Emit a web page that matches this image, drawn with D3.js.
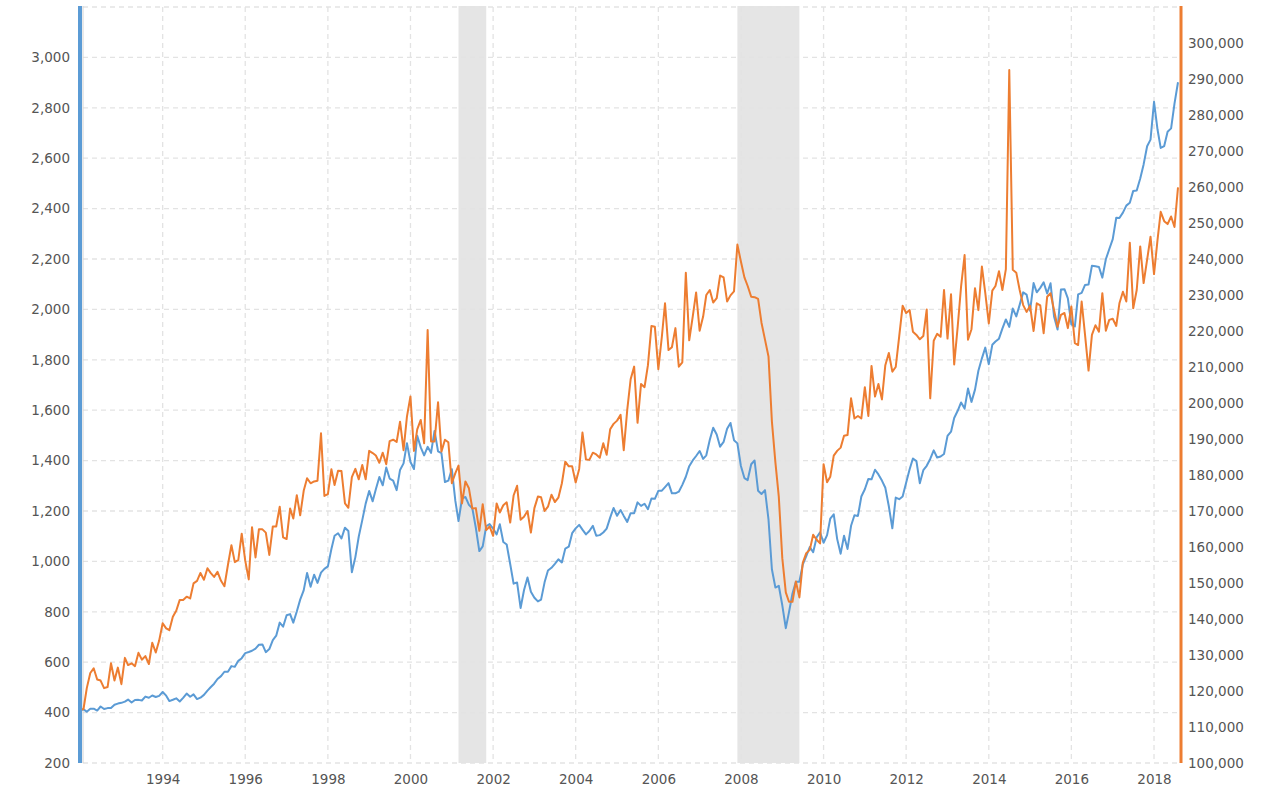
<!DOCTYPE html>
<html>
<head>
<meta charset="utf-8">
<script src="https://cdn.jsdelivr.net/npm/d3@7"></script>
<style>
  body { margin: 0; background: #fff; }
  svg { display: block; }
  text { font-family: "DejaVu Sans", Verdana, sans-serif; }
</style>
</head>
<body>
<svg id="chart" width="1280" height="790"></svg>
<script>
// ---------- DATA ----------
const firstMonth = "1992-01-01";
const lastMonth = "2018-08-01";

// S&P 500 monthly close (left axis), Jan 1992 .. Aug 2018
const sp500 = [
  408.79,412.70,403.69,414.95,415.35,408.14,424.21,414.03,417.80,418.68,431.35,435.71,
  438.78,443.38,451.67,440.19,450.19,450.53,448.13,463.56,458.93,467.83,461.79,466.45,
  481.61,467.14,445.77,450.91,456.50,444.27,458.26,475.49,462.69,472.35,453.69,459.27,
  470.42,487.39,500.71,514.71,533.40,544.75,562.06,561.88,584.41,581.50,605.37,615.93,
  636.02,640.43,645.50,654.17,669.12,670.63,639.95,651.99,687.31,705.27,757.02,740.74,
  786.16,790.82,757.12,801.34,848.28,885.14,954.29,899.47,947.28,914.62,955.40,970.43,
  980.28,1049.34,1101.75,1111.75,1090.82,1133.84,1120.67,957.28,1017.01,1098.67,1163.63,1229.23,
  1279.64,1238.33,1286.37,1335.18,1301.84,1372.71,1328.72,1320.41,1282.71,1362.93,1388.91,1469.25,
  1394.46,1366.42,1498.58,1452.43,1420.60,1454.60,1430.83,1517.68,1436.51,1429.40,1314.95,1320.28,
  1366.01,1239.94,1160.33,1249.46,1255.82,1224.42,1211.23,1133.58,1040.94,1059.78,1139.45,1148.08,
  1130.20,1106.73,1147.39,1076.92,1067.14,989.82,911.62,916.07,815.28,885.76,936.31,879.82,
  855.70,841.15,848.18,916.92,963.59,974.50,990.31,1008.01,995.97,1050.71,1058.20,1111.92,
  1131.13,1144.94,1126.21,1107.30,1120.68,1140.84,1101.72,1104.24,1114.58,1130.20,1173.82,1211.92,
  1181.27,1203.60,1180.59,1156.85,1191.50,1191.33,1234.18,1220.33,1228.81,1207.01,1249.48,1248.29,
  1280.08,1280.66,1294.83,1310.61,1270.09,1270.20,1276.66,1303.82,1335.85,1377.94,1400.63,1418.30,
  1438.24,1406.82,1420.86,1482.37,1530.62,1503.35,1455.27,1473.99,1526.75,1549.38,1481.14,1468.36,
  1378.55,1330.63,1322.70,1385.59,1400.38,1280.00,1267.38,1282.83,1166.36,968.75,896.24,903.25,
  825.88,735.09,797.87,872.81,919.14,919.32,987.48,1020.62,1057.08,1036.19,1095.63,1115.10,
  1073.87,1104.49,1169.43,1186.69,1089.41,1030.71,1101.60,1049.33,1141.20,1183.26,1180.55,1257.64,
  1286.12,1327.22,1325.83,1363.61,1345.20,1320.64,1292.28,1218.89,1131.42,1253.30,1246.96,1257.60,
  1312.41,1365.68,1408.47,1397.91,1310.33,1362.16,1379.32,1406.58,1440.67,1412.16,1416.18,1426.19,
  1498.11,1514.68,1569.19,1597.57,1630.74,1606.28,1685.73,1632.97,1681.55,1756.54,1805.81,1848.36,
  1782.59,1859.45,1872.34,1883.95,1923.57,1960.23,1930.67,2003.37,1972.29,2018.05,2067.56,2058.90,
  1994.99,2104.50,2067.89,2085.51,2107.39,2063.11,2103.84,1972.18,1920.03,2079.36,2080.41,2043.94,
  1940.24,1932.23,2059.74,2065.30,2096.95,2098.86,2173.60,2170.95,2168.27,2126.15,2198.81,2238.83,
  2278.87,2363.64,2362.72,2384.20,2411.80,2423.41,2470.30,2471.65,2519.36,2575.26,2647.58,2673.61,
  2823.81,2713.83,2640.87,2648.05,2705.27,2718.37,2816.29,2901.52
];

// Median home price (right axis), Jan 1992 .. Aug 2018
const homePrice = [
  114700,115000,120800,125000,126300,123200,122900,120800,121100,127700,122900,126500,
  121900,129200,127200,127700,126900,130600,128700,129700,127500,133400,130700,134000,
  138800,137400,136900,140600,142300,145300,145300,146200,145700,149900,150600,152800,
  150900,154100,152800,151700,153100,150600,149100,155000,160500,155800,156400,163700,
  156200,151000,165500,157100,164900,164900,164000,157800,165700,165700,171200,162700,
  162200,170700,167900,174400,168800,175600,179100,177700,178200,178400,191600,174200,
  174700,181600,177200,181200,181100,172100,170900,179400,181700,178800,182800,178800,
  186700,186100,185400,183400,186200,183000,189400,189800,189200,194800,186900,196200,
  201800,186700,192700,195300,188800,220300,189300,189300,200200,186500,189800,189100,
  177700,180500,182600,172100,178200,176300,170700,170800,164500,171900,164700,165700,
  163100,172100,169600,171600,172400,166800,174300,177000,167600,168400,170000,164000,
  170800,174000,173800,170000,171200,174500,172500,173700,177700,183700,182400,182400,
  177900,181700,191800,184300,184200,186200,185700,184800,188800,185600,192700,194200,
  195100,196700,186900,198100,206600,210100,194500,205300,204400,210500,221400,221200,
  209400,218400,227700,214700,215500,220800,210100,211300,236200,217400,224000,230700,
  220100,224000,230000,231400,227900,229100,235400,234900,228200,229900,231000,244000,
  239300,234900,232500,229500,229400,228900,222300,217600,212900,194900,183500,174000,
  156900,147400,144800,144800,150400,146000,155600,158300,159200,163400,162000,161000,
  183000,178000,179500,185400,186700,187600,190900,191100,201300,195700,196400,195700,
  204400,196400,210300,201800,205300,201000,210500,213900,208700,210000,218600,227000,
  225000,225800,219800,218900,217700,218600,226000,201300,217300,219200,218400,231400,
  217900,230200,210700,221200,232400,241100,217600,220500,231900,225800,237900,230500,
  222100,231200,232500,236600,231400,237200,292500,237000,236200,231400,227200,225300,
  227000,220000,227700,227100,219400,229500,230500,225800,221200,224500,225000,220800,
  226800,216600,216100,228200,218900,209000,218900,221600,219800,230500,220100,223100,
  223400,221400,227700,230900,228200,244500,226300,231400,243500,233300,239800,246200,
  235800,245300,253100,250500,249700,251800,248900,259900
];

const leftTicks = [200,400,600,800,1000,1200,1400,1600,1800,2000,2200,2400,2600,2800,3000];
const gridValues = [200,400,600,800,1000,1200,1400,1600,1800,2000,2200,2400,2600,2800,3000,3200];
const rightTicks = [100000,110000,120000,130000,140000,150000,160000,170000,180000,190000,200000,
  210000,220000,230000,240000,250000,260000,270000,280000,290000,300000];
const yearTicks = [1994,1996,1998,2000,2002,2004,2006,2008,2010,2012,2014,2016,2018];
const recessionStarts = ["2001-03-01","2007-12-01"];
const recessionEnds   = ["2001-11-01","2009-06-01"];

// ---------- CHART ----------
(function () {
const svg = d3.select("#chart");
const parse = d3.utcParse("%Y-%m-%d");
const months = d3.utcMonth.range(parse(firstMonth), d3.utcMonth.offset(parse(lastMonth), 1));

const pLeft = 80, pRight = 1178, pTop = 7, pBottom = 763;
const x = d3.scaleUtc().domain([parse(firstMonth), parse(lastMonth)]).range([pLeft, pRight]);
const yL = d3.scaleLinear().domain([200, 3200]).range([pBottom, pTop]);
const yR = d3.scaleLinear().domain([100000, 310000]).range([pBottom, pTop]);

// recession bands
svg.append("g").selectAll("rect")
  .data(recessionStarts.map((s, i) => [parse(s), parse(recessionEnds[i])]))
  .join("rect")
  .attr("x", d => x(d[0]))
  .attr("width", d => x(d[1]) - x(d[0]))
  .attr("y", pTop - 1)
  .attr("height", pBottom - pTop + 1)
  .attr("fill", "#e5e5e5");

// horizontal grid
svg.append("g").selectAll("line")
  .data(gridValues).join("line")
  .attr("x1", pLeft + 3).attr("x2", pRight)
  .attr("y1", d => yL(d)).attr("y2", d => yL(d))
  .attr("stroke", "#e3e3e3").attr("stroke-width", 1.3)
  .attr("stroke-dasharray", "5,4");

// vertical grid
svg.append("g").selectAll("line")
  .data(yearTicks).join("line")
  .attr("x1", d => x(Date.UTC(d, 0, 1))).attr("x2", d => x(Date.UTC(d, 0, 1)))
  .attr("y1", pTop).attr("y2", pBottom)
  .attr("stroke", "#e3e3e3").attr("stroke-width", 1.3)
  .attr("stroke-dasharray", "5,4");

// thin line next to left axis
svg.append("line")
  .attr("x1", pLeft + 3).attr("x2", pLeft + 3)
  .attr("y1", pTop - 1).attr("y2", pBottom)
  .attr("stroke", "#d4d4d4").attr("stroke-width", 1);

// series
const spData = sp500.map((v, i) => ({ date: months[i], v }));
const hpData = homePrice.map((v, i) => ({ date: months[i], v }));

svg.append("path")
  .datum(spData)
  .attr("fill", "none")
  .attr("stroke", "#5b9bd5")
  .attr("stroke-width", 2)
  .attr("stroke-linejoin", "round")
  .attr("d", d3.line().x(d => x(d.date)).y(d => yL(d.v)));

svg.append("path")
  .datum(hpData)
  .attr("fill", "none")
  .attr("stroke", "#ed7d31")
  .attr("stroke-width", 2)
  .attr("stroke-linejoin", "round")
  .attr("d", d3.line().x(d => x(d.date)).y(d => yR(d.v)));

// axis bars
svg.append("rect").attr("x", pLeft - 2).attr("y", pTop - 1)
  .attr("width", 4).attr("height", pBottom - pTop + 1).attr("fill", "#5b9bd5");
svg.append("rect").attr("x", pRight + 1.5).attr("y", pTop - 1)
  .attr("width", 3).attr("height", pBottom - pTop + 1).attr("fill", "#ed7d31");

// axes
const styleAxis = g => {
  g.select(".domain").remove();
  g.selectAll("text").attr("fill", "#555").style("font-size", "13.5px")
    .style("font-family", "\"DejaVu Sans\", Verdana, sans-serif");
};

svg.append("g")
  .attr("transform", `translate(${pLeft},0)`)
  .call(d3.axisLeft(yL).tickValues(leftTicks).tickFormat(d3.format(",")).tickSize(0).tickPadding(10))
  .call(styleAxis);

svg.append("g")
  .attr("transform", `translate(${pRight + 3},0)`)
  .call(d3.axisRight(yR).tickValues(rightTicks).tickFormat(d3.format(",")).tickSize(0).tickPadding(7))
  .call(styleAxis);

svg.append("g")
  .attr("transform", `translate(0,${pBottom})`)
  .call(d3.axisBottom(x).tickValues(yearTicks.map(y => new Date(Date.UTC(y, 0, 1))))
    .tickFormat(d3.utcFormat("%Y")).tickSize(0).tickPadding(11))
  .call(styleAxis);
})();
</script>
</body>
</html>
